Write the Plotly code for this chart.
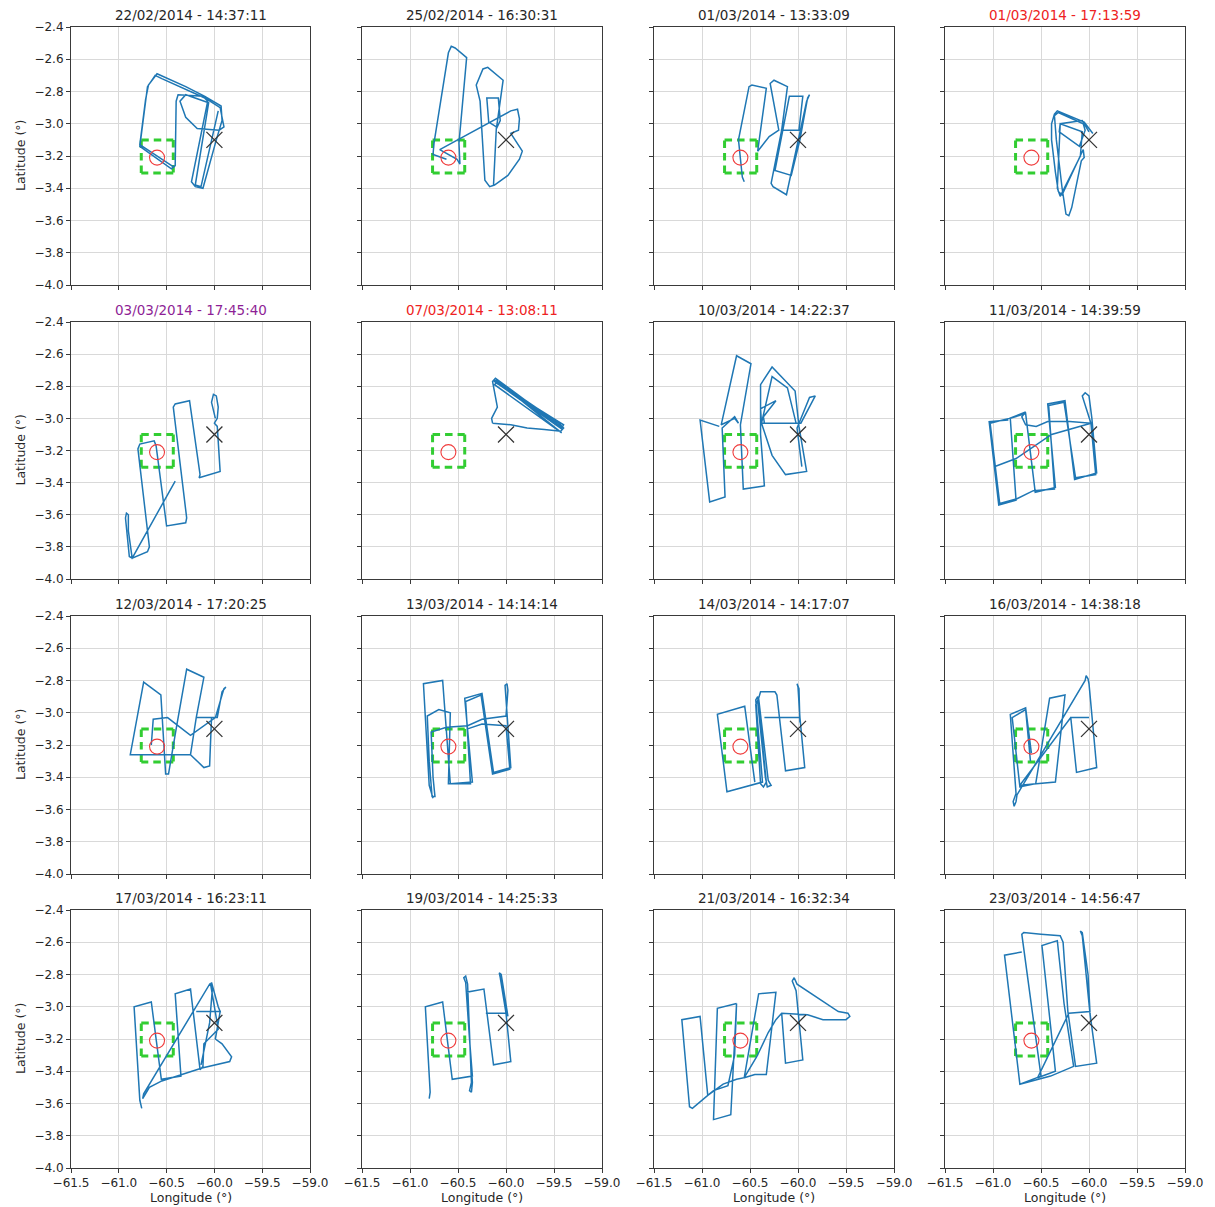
import plotly.graph_objects as go

# ---------------------------------------------------------------------------
# Flight data: one (lon, lat) track per flight, in degrees
# ---------------------------------------------------------------------------
flight_titles = [
    "22/02/2014 - 14:37:11", "25/02/2014 - 16:30:31", "01/03/2014 - 13:33:09", "01/03/2014 - 17:13:59",
    "03/03/2014 - 17:45:40", "07/03/2014 - 13:08:11", "10/03/2014 - 14:22:37", "11/03/2014 - 14:39:59",
    "12/03/2014 - 17:20:25", "13/03/2014 - 14:14:14", "14/03/2014 - 14:17:07", "16/03/2014 - 14:38:18",
    "17/03/2014 - 16:23:11", "19/03/2014 - 14:25:33", "21/03/2014 - 16:32:34", "23/03/2014 - 14:56:47",
]

track_0222 = [(-60.42, -3.27), (-60.78, -3.13), (-60.72, -2.85), (-60.69, -2.76), (-60.60, -2.69), (-60.30, -2.77),
              (-60.10, -2.83), (-59.93, -2.89), (-59.92, -2.98), (-59.98, -3.10), (-60.12, -3.40), (-60.20, -3.39),
              (-60.24, -3.36), (-60.07, -2.86), (-60.12, -2.83), (-60.38, -2.82), (-60.40, -2.86), (-60.41, -3.26),
              (-60.45, -3.28), (-60.78, -3.14), (-60.70, -2.77), (-60.62, -2.70), (-60.55, -2.72), (-60.10, -2.84),
              (-59.94, -2.90), (-59.90, -3.02), (-59.95, -3.04), (-60.18, -3.03), (-60.30, -2.96), (-60.36, -2.86),
              (-60.30, -2.82), (-60.06, -2.87), (-60.20, -3.38), (-60.14, -3.39), (-59.96, -2.92)]

track_0225 = [(-60.62, -3.22), (-60.76, -3.19), (-60.75, -3.12), (-60.60, -2.56), (-60.57, -2.52), (-60.53, -2.53),
              (-60.41, -2.59), (-60.49, -3.12), (-60.48, -3.25), (-60.51, -3.22), (-60.69, -3.16), (-60.35, -3.05),
              (-59.95, -2.92), (-59.88, -2.91), (-59.86, -2.97), (-59.87, -3.04), (-59.95, -3.06), (-59.83, -3.17),
              (-59.86, -3.22), (-59.98, -3.32), (-60.12, -3.38), (-60.17, -3.39), (-60.22, -3.35), (-60.27, -2.86),
              (-60.31, -2.76), (-60.24, -2.66), (-60.19, -2.65), (-60.03, -2.73), (-60.10, -3.03), (-60.06, -2.98),
              (-60.08, -2.84), (-60.20, -2.84), (-60.18, -2.99), (-60.10, -3.02), (-60.13, -3.38)]

track_0301a = [(-60.56, -3.36), (-60.58, -3.33), (-60.62, -3.10), (-60.51, -2.77), (-60.48, -2.76), (-60.33, -2.78),
               (-60.42, -3.17), (-60.30, -3.08), (-60.20, -3.04), (-60.29, -2.75), (-60.25, -2.73), (-60.11, -2.77),
               (-60.17, -3.04), (-60.28, -3.37), (-60.26, -3.39), (-60.12, -3.44), (-59.91, -2.86), (-59.88, -2.82),
               (-59.90, -2.84), (-59.98, -3.10), (-60.07, -3.32), (-60.24, -3.29), (-60.09, -2.83), (-59.95, -2.83),
               (-59.99, -3.04), (-60.18, -3.04)]

track_0301b = [(-59.96, -3.06), (-60.04, -3.00), (-60.05, -2.99), (-60.33, -2.92), (-60.36, -2.94), (-60.39, -3.00),
               (-60.39, -3.10), (-60.35, -3.30), (-60.32, -3.42), (-60.28, -3.44), (-60.06, -3.16), (-60.05, -3.21),
               (-60.08, -3.23), (-60.18, -3.52), (-60.21, -3.57), (-60.24, -3.56), (-60.28, -3.40), (-60.34, -3.10),
               (-60.36, -2.95), (-60.32, -2.93), (-60.06, -3.00), (-60.04, -3.04), (-60.10, -3.14), (-60.31, -3.05),
               (-60.30, -3.00), (-60.07, -3.05), (-60.09, -3.20), (-60.30, -3.45), (-60.33, -3.40), (-60.30, -3.00),
               (-60.07, -2.98), (-60.00, -3.05)]

track_0303 = [(-60.41, -3.39), (-60.86, -3.87), (-60.89, -3.86), (-60.91, -3.75), (-60.93, -3.62), (-60.92, -3.59),
              (-60.90, -3.60), (-60.90, -3.70), (-60.86, -3.87), (-60.70, -3.83), (-60.68, -3.80), (-60.80, -3.19),
              (-60.78, -3.16), (-60.63, -3.14), (-60.61, -3.17), (-60.50, -3.67), (-60.30, -3.65), (-60.29, -3.62),
              (-60.43, -2.93), (-60.41, -2.91), (-60.26, -2.89), (-60.15, -3.35), (-60.16, -3.37), (-59.94, -3.33),
              (-59.97, -3.05), (-60.00, -3.03), (-59.97, -3.00), (-59.96, -2.93), (-59.98, -2.86), (-60.01, -2.85),
              (-60.03, -2.90), (-59.99, -3.00)]

track_0307 = [(-60.14, -3.03), (-60.15, -3.00), (-60.09, -2.93), (-60.12, -2.82), (-60.14, -2.77), (-60.11, -2.75),
              (-59.43, -3.05), (-59.41, -3.07), (-60.12, -2.77), (-60.13, -2.76), (-59.42, -3.06), (-59.40, -3.04),
              (-60.10, -2.78), (-60.12, -2.79), (-59.44, -3.08), (-59.42, -3.09), (-60.11, -2.76), (-59.45, -3.03),
              (-59.40, -3.06), (-59.43, -3.08), (-59.60, -3.07), (-59.78, -3.06), (-59.95, -3.04), (-60.10, -3.03),
              (-60.14, -3.03)]

track_0310 = [(-60.82, -3.05), (-61.02, -3.01), (-60.92, -3.52), (-60.76, -3.49), (-60.79, -3.06), (-60.66, -2.99),
              (-60.62, -3.03), (-60.66, -3.00), (-60.80, -3.04), (-60.64, -2.61), (-60.49, -2.66), (-60.60, -3.04),
              (-60.57, -3.44), (-60.35, -3.42), (-60.39, -3.10), (-60.39, -2.79), (-60.27, -2.68), (-60.03, -2.83),
              (-59.99, -3.05), (-59.91, -3.33), (-60.13, -3.35), (-60.27, -3.23), (-60.38, -3.03), (-60.27, -2.74),
              (-60.11, -2.81), (-60.02, -3.03), (-60.35, -3.03), (-60.36, -2.99), (-60.23, -2.89), (-60.39, -2.94),
              (-60.38, -3.03), (-59.97, -3.03), (-59.82, -2.86), (-59.88, -2.87), (-60.01, -3.06), (-59.96, -3.30)]

track_0311 = [(-60.84, -3.01), (-61.04, -3.02), (-60.94, -3.54), (-60.76, -3.51), (-60.82, -3.00), (-60.66, -2.97),
              (-60.56, -3.46), (-60.35, -3.43), (-60.43, -2.91), (-60.25, -2.89), (-60.15, -3.38), (-59.92, -3.34),
              (-59.97, -3.00), (-60.00, -2.86), (-60.04, -2.84), (-60.07, -2.86), (-59.98, -3.03), (-60.20, -3.02),
              (-60.43, -3.02), (-60.55, -3.05), (-60.66, -3.04), (-60.70, -2.99), (-60.66, -2.96), (-60.83, -3.00),
              (-61.03, -3.03), (-60.93, -3.53), (-60.75, -3.50), (-60.58, -3.45), (-60.36, -3.44), (-60.42, -2.92),
              (-60.26, -2.90), (-60.14, -3.37), (-59.93, -3.35), (-59.98, -3.03), (-60.39, -3.10), (-60.76, -3.25),
              (-60.98, -3.30)]

track_0312 = [(-60.25, -3.26), (-60.88, -3.26), (-60.74, -2.81), (-60.56, -2.89), (-60.51, -3.38), (-60.48, -3.38),
              (-60.40, -3.10), (-60.29, -2.73), (-60.11, -2.78), (-60.19, -3.03), (-60.25, -3.26), (-60.11, -3.34),
              (-60.05, -3.33), (-60.03, -3.03), (-60.19, -3.03), (-59.97, -3.03), (-59.92, -2.87), (-59.88, -2.84),
              (-59.90, -2.85), (-59.99, -3.03), (-60.25, -3.14), (-60.49, -3.03), (-60.64, -3.04), (-60.66, -3.20)]

track_0313 = [(-60.76, -3.53), (-60.80, -3.45), (-60.86, -2.82), (-60.66, -2.80), (-60.58, -3.44), (-60.35, -3.43),
              (-60.43, -2.91), (-60.25, -2.88), (-60.13, -3.37), (-59.95, -3.34), (-60.01, -2.83), (-59.99, -2.82),
              (-59.98, -2.86), (-60.00, -3.02), (-60.25, -3.04), (-60.40, -3.08), (-60.62, -3.09), (-60.78, -3.12),
              (-60.76, -3.40), (-60.74, -3.52), (-60.77, -3.52), (-60.80, -3.30), (-60.82, -3.02), (-60.70, -2.98),
              (-60.58, -3.00), (-60.60, -3.44), (-60.37, -3.44), (-60.42, -2.93), (-60.26, -2.89), (-60.14, -3.38),
              (-59.96, -3.35), (-60.00, -3.08), (-60.25, -3.07), (-60.40, -3.10)]

track_0314 = [(-60.45, -3.43), (-60.555, -2.96), (-60.84, -3.01), (-60.74, -3.49), (-60.37, -3.43), (-60.44, -2.92),
              (-60.42, -2.90), (-60.33, -3.43), (-60.36, -3.46), (-60.39, -3.44), (-60.44, -2.95), (-60.41, -2.91),
              (-60.31, -3.42), (-60.28, -3.45), (-60.32, -3.46), (-60.34, -3.40), (-60.42, -2.93), (-60.39, -2.87),
              (-60.24, -2.87), (-60.22, -2.89), (-60.13, -3.36), (-59.93, -3.34), (-59.98, -3.03), (-60.35, -3.03),
              (-59.98, -3.03), (-60.00, -2.84), (-60.01, -2.82), (-59.99, -2.85), (-59.98, -3.06)]

track_0316 = [(-60.60, -3.25), (-60.66, -2.97), (-60.82, -3.01), (-60.76, -3.50), (-60.79, -3.55), (-60.78, -3.58),
              (-60.76, -3.55), (-60.75, -3.51), (-60.04, -2.80), (-60.03, -2.77), (-60.01, -2.79), (-60.00, -2.82),
              (-59.92, -3.34), (-60.13, -3.37), (-60.19, -3.03), (-60.00, -3.03), (-60.19, -3.03), (-60.72, -3.45),
              (-60.56, -3.44), (-60.35, -3.43), (-60.25, -2.89), (-60.41, -2.91), (-60.555, -3.44), (-60.72, -3.46),
              (-60.80, -3.03), (-60.66, -2.98), (-60.61, -3.30)]

track_0317 = [(-60.76, -3.63), (-60.78, -3.58), (-60.84, -3.00), (-60.66, -2.97), (-60.555, -3.45), (-60.35, -3.43),
              (-60.41, -2.92), (-60.25, -2.89), (-60.15, -3.39), (-60.12, -3.37), (-60.11, -3.23), (-59.96, -3.14),
              (-60.04, -2.86), (-60.03, -2.85), (-59.96, -3.00), (-59.94, -3.03), (-60.19, -3.03), (-59.94, -3.03),
              (-59.99, -3.20), (-59.92, -3.23), (-59.82, -3.31), (-59.84, -3.34), (-60.13, -3.38), (-60.33, -3.42),
              (-60.55, -3.46), (-60.68, -3.50), (-60.75, -3.57), (-60.74, -3.54), (-60.05, -2.86), (-60.02, -2.88),
              (-60.05, -3.10), (-60.14, -3.36)]

track_0319 = [(-60.80, -3.57), (-60.79, -3.53), (-60.84, -3.00), (-60.66, -2.97), (-60.56, -3.45), (-60.35, -3.43),
              (-60.38, -3.20), (-60.42, -2.85), (-60.44, -2.82), (-60.42, -2.81), (-60.40, -2.86), (-60.37, -3.30),
              (-60.36, -3.47), (-60.38, -3.52), (-60.36, -3.53), (-60.35, -3.47), (-60.41, -2.91), (-60.23, -2.89),
              (-60.13, -3.36), (-59.95, -3.34), (-60.00, -3.04), (-60.21, -3.04), (-60.00, -3.04), (-60.06, -2.82),
              (-60.07, -2.79), (-60.05, -2.80), (-59.98, -3.06)]

track_0321 = [(-60.64, -2.98), (-60.84, -3.01), (-60.88, -3.70), (-60.70, -3.67), (-60.64, -2.98), (-60.66, -3.30),
              (-60.73, -3.49), (-60.88, -3.52), (-60.94, -3.55), (-61.02, -3.06), (-61.21, -3.08), (-61.13, -3.62),
              (-61.10, -3.63), (-60.94, -3.55), (-60.78, -3.48), (-60.64, -3.45), (-60.56, -3.44), (-60.41, -2.92),
              (-60.23, -2.91), (-60.33, -3.42), (-60.45, -3.42), (-60.56, -3.44), (-60.43, -3.31), (-60.31, -3.16),
              (-60.23, -3.08), (-60.17, -3.04), (-59.90, -3.05), (-59.74, -3.08), (-59.50, -3.08), (-59.46, -3.06),
              (-59.48, -3.04), (-59.58, -3.03), (-60.01, -2.86), (-60.04, -2.82), (-60.06, -2.84), (-60.02, -2.90),
              (-59.95, -3.33), (-60.13, -3.35), (-60.17, -3.04)]

track_0323 = [(-60.70, -2.66), (-60.88, -2.68), (-60.72, -3.48), (-60.555, -3.44), (-60.50, -3.43), (-60.70, -2.55),
              (-60.68, -2.54), (-60.50, -2.55), (-60.30, -2.56), (-60.27, -2.60), (-60.22, -3.03), (-60.14, -3.37),
              (-59.92, -3.35), (-59.99, -3.04), (-60.07, -2.56), (-60.09, -2.53), (-60.07, -2.54), (-60.01, -2.80),
              (-59.99, -3.03), (-60.21, -3.04), (-60.535, -3.44), (-60.35, -3.40), (-60.49, -2.62), (-60.33, -2.59),
              (-60.26, -2.98), (-60.16, -3.37), (-60.40, -3.43), (-60.72, -3.48)]

flight_tracks = [track_0222, track_0225, track_0301a, track_0301b, track_0303, track_0307, track_0310, track_0311,
                 track_0312, track_0313, track_0314, track_0316, track_0317, track_0319, track_0321, track_0323]

# Reference site (red circle), ground station (black cross) and target area (green box)
site_lon, site_lat = -60.60, -3.21
station_lon, station_lat = -60.00, -3.10
area_lon = [-60.765, -60.43]
area_lat = [-3.305, -3.10]

lon_ticks = [-61.5, -61.0, -60.5, -60.0, -59.5, -59.0]
lat_ticks = [-4.0, -3.8, -3.6, -3.4, -3.2, -3.0, -2.8, -2.6, -2.4]

# Titles drawn in colour for flagged flights
flagged_red = {"01/03/2014 - 17:13:59", "07/03/2014 - 13:08:11"}
flagged_purple = {"03/03/2014 - 17:45:40"}

# ---------------------------------------------------------------------------
# Layout geometry (pixels)
# ---------------------------------------------------------------------------
W, H = 1215, 1207
COL_LEFT = [71, 362, 654, 945]
COL_RIGHT = [310, 602, 894, 1185]
ROW_TOP = [27, 322, 616, 910]
ROW_BOTTOM = [285, 579, 874, 1168]

FONT = "DejaVu Sans"
TEXT = "#262626"
TRACK_BLUE = "#1f77b4"
AREA_GREEN = "#32cd32"

# Each side of the box as its own sub-path so the dash pattern starts at every corner
box_x = [area_lon[0], area_lon[1], None, area_lon[1], area_lon[1], None,
         area_lon[1], area_lon[0], None, area_lon[0], area_lon[0]]
box_y = [area_lat[1], area_lat[1], None, area_lat[1], area_lat[0], None,
         area_lat[0], area_lat[0], None, area_lat[0], area_lat[1]]

fig = go.Figure()
annotations = []
axes_layout = {}

common_axis = dict(
    showline=True, mirror=True, linecolor="#3a3a3a", linewidth=1.1,
    ticks="outside", ticklen=4, tickwidth=1, tickcolor="#3a3a3a",
    showgrid=True, gridcolor="#d9d9d9", gridwidth=1, zeroline=False,
    tickfont=dict(family=FONT, size=12, color=TEXT),
    fixedrange=True, automargin=False,
)

for i, (title, track) in enumerate(zip(flight_titles, flight_tracks)):
    r, c = divmod(i, 4)
    sfx = "" if i == 0 else str(i + 1)
    xref, yref = "x" + sfx, "y" + sfx

    fig.add_trace(go.Scatter(
        x=box_x, y=box_y, mode="lines", connectgaps=False,
        line=dict(color=AREA_GREEN, width=3, dash="7.5px,5px"),
        xaxis=xref, yaxis=yref, hoverinfo="skip"))

    lon = [p[0] for p in track]
    lat = [p[1] for p in track]
    fig.add_trace(go.Scatter(
        x=lon, y=lat, mode="lines",
        line=dict(color=TRACK_BLUE, width=1.5),
        xaxis=xref, yaxis=yref, hoverinfo="skip"))

    fig.add_trace(go.Scatter(
        x=[site_lon], y=[site_lat], mode="markers",
        marker=dict(symbol="circle-open", size=15, color="#f03c3c", line=dict(width=1.1, color="#f03c3c")),
        xaxis=xref, yaxis=yref, hoverinfo="skip"))

    fig.add_trace(go.Scatter(
        x=[station_lon], y=[station_lat], mode="markers",
        marker=dict(symbol="x-thin-open", size=16, color="#333333", line=dict(width=1.3, color="#333333")),
        xaxis=xref, yaxis=yref, hoverinfo="skip"))

    axes_layout["xaxis" + sfx] = dict(
        domain=[COL_LEFT[c] / W, COL_RIGHT[c] / W], range=[-61.5, -59.0],
        tickvals=lon_ticks, tickformat=".1f", showticklabels=(r == 3),
        anchor=yref, **common_axis)
    axes_layout["yaxis" + sfx] = dict(
        domain=[1 - ROW_BOTTOM[r] / H, 1 - ROW_TOP[r] / H], range=[-4.0, -2.4],
        tickvals=lat_ticks, tickformat=".1f", showticklabels=(c == 0),
        anchor=xref, **common_axis)

    if title in flagged_red:
        tcolor = "#ee2222"
    elif title in flagged_purple:
        tcolor = "#8e1f96"
    else:
        tcolor = TEXT
    annotations.append(dict(
        text=title, xref="paper", yref="paper",
        x=(COL_LEFT[c] + COL_RIGHT[c]) / 2 / W, y=1 - ROW_TOP[r] / H,
        xanchor="center", yanchor="bottom", yshift=2, showarrow=False,
        font=dict(family=FONT, size=13.5, color=tcolor)))

for r in range(4):
    annotations.append(dict(
        text="Latitude (°)", xref="paper", yref="paper",
        x=20 / W, y=1 - (ROW_TOP[r] + ROW_BOTTOM[r]) / 2 / H,
        xanchor="center", yanchor="middle", textangle=-90, showarrow=False,
        font=dict(family=FONT, size=12.5, color=TEXT)))

for c in range(4):
    annotations.append(dict(
        text="Longitude (°)", xref="paper", yref="paper",
        x=(COL_LEFT[c] + COL_RIGHT[c]) / 2 / W, y=1 - 1197 / H,
        xanchor="center", yanchor="middle", showarrow=False,
        font=dict(family=FONT, size=12.5, color=TEXT)))

fig.update_layout(
    width=W, height=H,
    margin=dict(l=0, r=0, t=0, b=0),
    paper_bgcolor="white", plot_bgcolor="white",
    showlegend=False,
    font=dict(family=FONT, size=12, color=TEXT),
    annotations=annotations,
    **axes_layout,
)

fig.write_html("out.html")
